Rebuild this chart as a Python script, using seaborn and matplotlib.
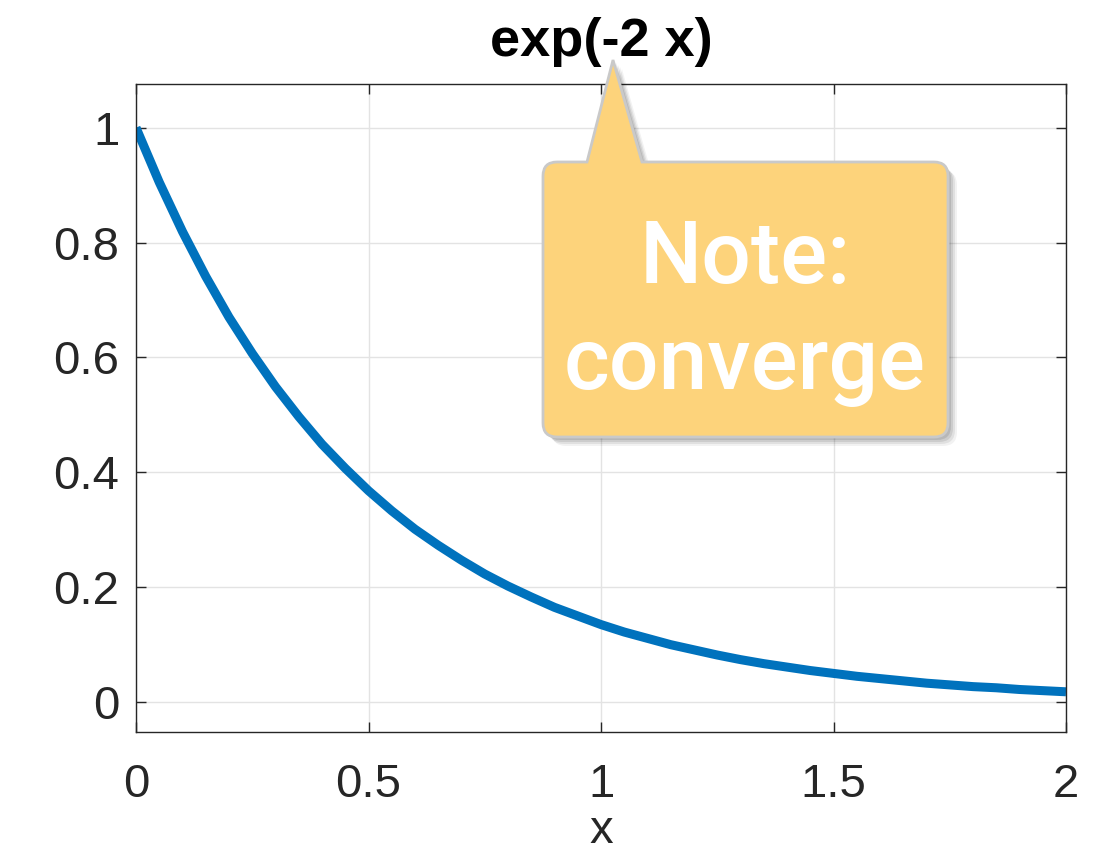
import numpy as np
import matplotlib
matplotlib.use("Agg")
import matplotlib.pyplot as plt
import seaborn as sns
from matplotlib.path import Path
from matplotlib.patches import PathPatch
from matplotlib.transforms import Affine2D

# ---- data ----
x_vals = [0.00, 0.05, 0.10, 0.15, 0.20, 0.25, 0.30, 0.35, 0.40, 0.45,
          0.50, 0.55, 0.60, 0.65, 0.70, 0.75, 0.80, 0.85, 0.90, 0.95,
          1.00, 1.05, 1.10, 1.15, 1.20, 1.25, 1.30, 1.35, 1.40, 1.45,
          1.50, 1.55, 1.60, 1.65, 1.70, 1.75, 1.80, 1.85, 1.90, 1.95, 2.00]
y_vals = [1.000, 0.905, 0.819, 0.741, 0.670, 0.607, 0.549, 0.497, 0.449, 0.407,
          0.368, 0.333, 0.301, 0.273, 0.247, 0.223, 0.202, 0.183, 0.165, 0.150,
          0.135, 0.122, 0.111, 0.100, 0.091, 0.082, 0.074, 0.067, 0.061, 0.055,
          0.050, 0.045, 0.041, 0.037, 0.033, 0.030, 0.027, 0.025, 0.022, 0.020, 0.018]
x_ticks = [0, 0.5, 1, 1.5, 2]
x_tick_labels = ["0", "0.5", "1", "1.5", "2"]
y_ticks = [0, 0.2, 0.4, 0.6, 0.8, 1]
y_tick_labels = ["0", "0.2", "0.4", "0.6", "0.8", "1"]
title_text = "exp(-2 x)"
xlabel_text = "x"
note_text = "Note:\nconverge"

sns.set_theme(style="whitegrid")
plt.rcParams["font.family"] = ["Liberation Sans", "DejaVu Sans"]

W, H = 1106, 859
fig = plt.figure(figsize=(W / 100, H / 100), dpi=100)
ax = fig.add_axes([136 / W, 1 - 732 / H, (1066 - 136) / W, (732 - 84) / H])
ax.set_facecolor("white")

sns.lineplot(x=x_vals, y=y_vals, ax=ax, color="#0072BD", linewidth=6.5,
             solid_capstyle="butt", sort=False)

ax.set_xlim(0, 2)
ax.set_ylim(-0.052, 1.076)
ax.set_xticks(x_ticks)
ax.set_xticklabels(x_tick_labels)
ax.set_yticks(y_ticks)
ax.set_yticklabels(y_tick_labels)
ax.grid(True, color="#e3e3e3", linewidth=1.0)
for s in ax.spines.values():
    s.set_visible(True)
    s.set_color("#262626")
    s.set_linewidth(1.0)
ax.tick_params(axis="both", which="both", direction="in", length=7, width=1.0,
               color="#262626", labelcolor="#262626", labelsize=34,
               top=True, right=True, bottom=True, left=True)
ax.tick_params(axis="x", pad=22)
ax.tick_params(axis="y", pad=12)
ax.set_title(title_text, fontsize=39, fontweight="bold", color="black", pad=20)
ax.set_xlabel(xlabel_text, fontsize=34, color="#262626", labelpad=2)
ax.set_ylabel("")

# ---- callout shape in pixel coordinates (image y downwards) ----
pix = Affine2D().scale(1 / W, -1 / H).translate(0, 1) + fig.transFigure


def callout_path(x0, y0, x1, y1, r, bl, br, tip):
    verts = [
        (x0 + r, y0), (bl, y0), tip, (br, y0), (x1 - r, y0),
        (x1, y0), (x1, y0 + r),
        (x1, y1 - r),
        (x1, y1), (x1 - r, y1),
        (x0 + r, y1),
        (x0, y1), (x0, y1 - r),
        (x0, y0 + r),
        (x0, y0), (x0 + r, y0),
        (x0 + r, y0),
    ]
    codes = [Path.MOVETO, Path.LINETO, Path.LINETO, Path.LINETO, Path.LINETO,
             Path.CURVE3, Path.CURVE3,
             Path.LINETO,
             Path.CURVE3, Path.CURVE3,
             Path.LINETO,
             Path.CURVE3, Path.CURVE3,
             Path.LINETO,
             Path.CURVE3, Path.CURVE3,
             Path.CLOSEPOLY]
    return Path(verts, codes)


bx0, by0, bx1, by1 = 543, 162, 948, 437
shape = dict(x0=bx0, y0=by0, x1=bx1, y1=by1, r=14, bl=587, br=642, tip=(613, 60))

# soft shadow
for k, a in zip([3, 5, 7, 9], [0.10, 0.09, 0.07, 0.05]):
    sp = PathPatch(callout_path(**{**shape, "x0": bx0 + k, "x1": bx1 + k,
                                   "y0": by0 + k, "y1": by1 + k,
                                   "bl": shape["bl"] + k, "br": shape["br"] + k,
                                   "tip": (613 + k, 60 + k)}),
                   transform=pix, facecolor="black", edgecolor="none", alpha=a,
                   clip_on=False, zorder=10)
    fig.add_artist(sp)

main = PathPatch(callout_path(**shape), transform=pix, facecolor="#FDD37B",
                 edgecolor="#c9c9c9", linewidth=2.0, clip_on=False, zorder=11)
fig.add_artist(main)

fig.text(745 / W, 1 - 312 / H, note_text, ha="center", va="center",
         fontsize=63, color="white", fontweight="medium",
         family=["Roboto", "DejaVu Sans"], linespacing=1.32, zorder=12)

fig.savefig("out.png", dpi=100)
